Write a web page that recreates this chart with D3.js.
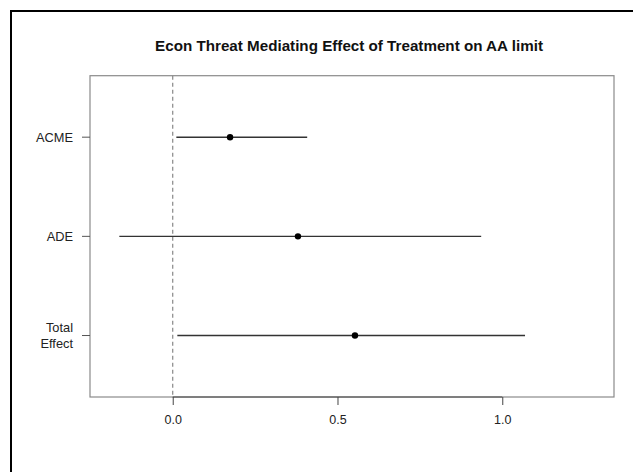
<!DOCTYPE html>
<html>
<head>
<meta charset="utf-8">
<script src="https://cdn.jsdelivr.net/npm/d3@7"></script>
<style>
    body { margin: 0; background: #fff; }
    svg { display: block; font-family: "Liberation Sans", Arial, sans-serif; }
</style>
</head>
<body>
<div id="chart"></div>
<script>
// ============================================================================
// data
// ============================================================================

const effects = ["ACME", "ADE", "Total Effect"];
const estimates = [0.174, 0.380, 0.553];
const lower = [0.011, -0.162, 0.014];
const upper = [0.408, 0.936, 1.069];
const xTicks = [0, 0.5, 1.0];
const title = "Econ Threat Mediating Effect of Treatment on AA limit";

// ============================================================================
// chart
// ============================================================================

const width = 633, height = 472;
const box = { left: 90, right: 614, top: 75.7, bottom: 397 };

const svg = d3.select("#chart")
    .append("svg")
    .attr("width", width)
    .attr("height", height);

// outer frame (runs off the page on right and bottom)
svg.append("rect")
    .attr("x", 11).attr("y", 11)
    .attr("width", 800).attr("height", 600)
    .attr("fill", "none")
    .attr("stroke", "#000")
    .attr("stroke-width", 2);

const x = d3.scaleLinear()
    .domain([-0.251, 1.339])
    .range([box.left, box.right]);

// rows from top: index 0 -> 3, etc.
const y = d3.scaleLinear()
    .domain([0.38, 3.62])
    .range([box.bottom, box.top]);
const rowY = i => y(effects.length - i);

// title
svg.append("text")
    .attr("x", (box.left + box.right) / 2 - 3)
    .attr("y", 51)
    .attr("text-anchor", "middle")
    .attr("font-size", 15.2)
    .attr("font-weight", "bold")
    .attr("fill", "#111")
    .text(title);

// plot box
svg.append("rect")
    .attr("x", box.left).attr("y", box.top)
    .attr("width", box.right - box.left)
    .attr("height", box.bottom - box.top)
    .attr("fill", "none")
    .attr("stroke", "#8a8a8a")
    .attr("stroke-width", 1.2);

// zero reference line
svg.append("line")
    .attr("x1", x(0)).attr("x2", x(0))
    .attr("y1", box.top).attr("y2", box.bottom)
    .attr("stroke", "#888")
    .attr("stroke-width", 1.2)
    .attr("stroke-dasharray", "4,3");

// x axis
const xAxis = svg.append("g")
    .attr("transform", `translate(0,${box.bottom})`)
    .call(d3.axisBottom(x).tickValues(xTicks).tickFormat(d3.format(".1f")).tickSize(8).tickPadding(10));
xAxis.select(".domain")
    .attr("d", `M${x(xTicks[0])},0H${x(xTicks[xTicks.length - 1])}`)
    .attr("stroke", "#444");
xAxis.selectAll(".tick line").attr("stroke", "#444");
xAxis.selectAll(".tick text")
    .attr("font-size", 12.5)
    .attr("font-family", "Liberation Sans, Arial, sans-serif")
    .attr("fill", "#222");

// y axis ticks
const yAxis = svg.append("g");
yAxis.selectAll("line")
    .data(effects)
    .join("line")
    .attr("x1", box.left - 8).attr("x2", box.left)
    .attr("y1", (d, i) => rowY(i)).attr("y2", (d, i) => rowY(i))
    .attr("stroke", "#555");

yAxis.selectAll("text")
    .data(effects)
    .join("text")
    .attr("text-anchor", "end")
    .attr("font-size", 12.8)
    .attr("fill", "#222")
    .each(function(d, i) {
        const words = d.split(" ");
        const t = d3.select(this);
        words.forEach((w, j) => {
            t.append("tspan")
                .attr("x", 73)
                .attr("y", rowY(i) + 4.5 + (j - (words.length - 1) / 2) * 16)
                .text(w);
        });
    });

// confidence intervals
svg.append("g")
    .selectAll("line")
    .data(effects)
    .join("line")
    .attr("x1", (d, i) => x(lower[i]))
    .attr("x2", (d, i) => x(upper[i]))
    .attr("y1", (d, i) => rowY(i))
    .attr("y2", (d, i) => rowY(i))
    .attr("stroke", "#333")
    .attr("stroke-width", 1.4);

// point estimates
svg.append("g")
    .selectAll("circle")
    .data(effects)
    .join("circle")
    .attr("cx", (d, i) => x(estimates[i]))
    .attr("cy", (d, i) => rowY(i))
    .attr("r", 3.2)
    .attr("fill", "#000");
</script>
</body>
</html>
